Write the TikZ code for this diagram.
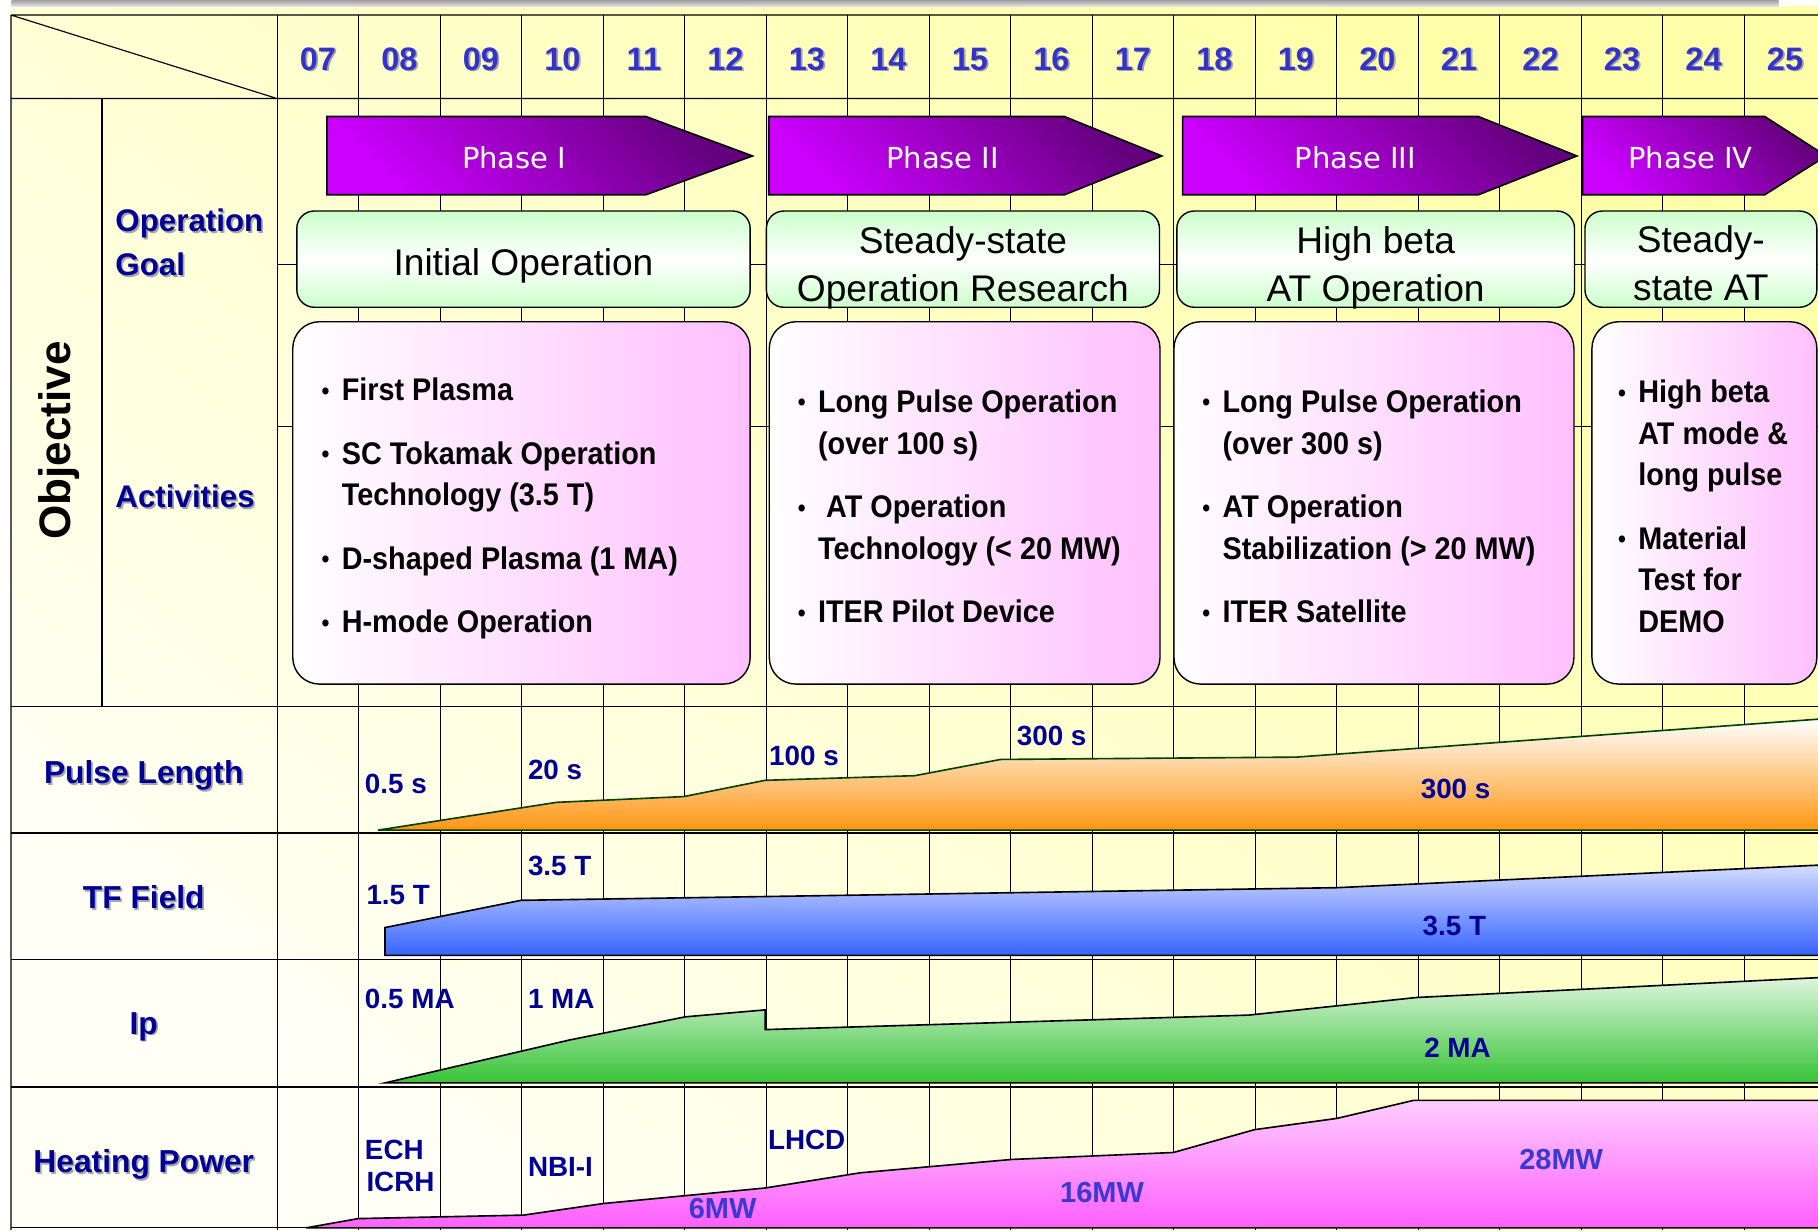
\documentclass[tikz,border=0pt]{standalone}
\usepackage{fontspec}
\setmainfont{Liberation Sans}
\newfontfamily\actfont[FakeStretch=0.92]{Liberation Sans}
\newfontfamily\phasefont{DejaVu Sans}
\usetikzlibrary{calc}
\definecolor{navy}{RGB}{0,0,150}
\definecolor{yearblue}{RGB}{51,51,204}
\definecolor{mwblue}{RGB}{58,58,210}
\definecolor{phdark}{RGB}{100,0,125}
\definecolor{phlight}{RGB}{204,0,255}
\definecolor{pulseor}{RGB}{255,150,20}
\definecolor{tflight}{RGB}{212,220,255}
\definecolor{tfblue}{RGB}{55,100,255}
\definecolor{iplight}{RGB}{222,245,222}
\definecolor{ipgreen}{RGB}{55,195,55}
\definecolor{heatlight}{RGB}{255,205,255}
\definecolor{heatpink}{RGB}{255,95,255}
\definecolor{bgur}{RGB}{255,255,170}
\definecolor{bgll}{RGB}{255,255,246}
\newcommand\bul{\makebox[8.7pt][l]{\raisebox{0.6pt}{\fontsize{10.5}{10.5}\selectfont\textbullet}}}
\newcommand\ind{\hspace*{8.7pt}}
% label with a grey drop shadow: name, style, position, text
\newcommand\shadowlbl[4]{%
  \node[#2,text=black!35] at ($(#3)+(1.5,1.5)$) {#4};
  \node[#2] (#1) at (#3) {#4};}

\begin{document}
\begin{tikzpicture}[x=0.5pt,y=-0.5pt,
  gridline/.style={line width=0.5pt},
  yearlbl/.style={anchor=base,text=yearblue,font=\bfseries\fontsize{14}{16}\selectfont},
  rowlbl/.style={anchor=base,text=navy,font=\bfseries\fontsize{13.7}{16}\selectfont},
  sublbl/.style={anchor=base west,inner sep=0pt,text=navy,font=\bfseries\fontsize{13.5}{16}\selectfont},
  datalbl/.style={anchor=base west,inner sep=0pt,text=navy,font=\bfseries\fontsize{12}{14}\selectfont},
  mwlbl/.style={datalbl,text=mwblue,font=\bfseries\fontsize{12.5}{14}\selectfont},
  phasearrow/.style={draw=black,line width=0.7pt,top color=phdark,bottom color=phlight,shading angle=-45},
  phasetext/.style={anchor=base,text=white,font=\phasefont\fontsize{12.5}{15}\selectfont},
  goalbox/.style={draw=black,line width=0.6pt,rounded corners=7.5pt,top color=green!20,bottom color=green!20,middle color=white},
  goaltext/.style={align=center,inner sep=0pt,font=\fontsize{16}{21}\selectfont},
  actbox/.style={draw=black,line width=0.6pt,rounded corners=11.5pt,left color=white,right color=magenta!25},
  acttext/.style={anchor=north west,align=left,inner sep=0pt,font=\actfont\bfseries\fontsize{13.5}{18}\selectfont},
  datashape/.style={draw=black,line width=0.7pt}]
\useasboundingbox (0,0) rectangle (1568,1061);
\clip (0,0) rectangle (1568,1061);
\fill[white] (0,0) rectangle (1568,1061);
\shade[top color=bgur,bottom color=bgll,shading angle=-40] (9.5,5.5) rectangle (1568,1061);
\shade[top color=gray!75,bottom color=gray!20] (10,0) rectangle (1534,5.5);

% table grid
\draw[gridline] (9.5,13) -- (1568,13) (9.5,85) -- (1568,85) (9.5,13) -- (9.5,1061) (9.5,13) -- (239,85);
\draw[gridline] (88,85) -- (88,609);
\foreach \k in {0,...,18} \draw[gridline] ({239+70.3*\k},13) -- ({239+70.3*\k},1061);
\foreach \y in {228,368} \draw[gridline] (239,\y) -- (1568,\y);
\foreach \y in {609,718.5,827.5,937.5,1059} \draw[gridline] (9.5,\y) -- (1568,\y);

% years
\foreach \yr [count=\k from 0] in {07,08,09,10,11,12,13,14,15,16,17,18,19,20,21,22,23,24,25}{
  \pgfmathsetmacro\xc{239+70.3*(\k+0.5)}
  \shadowlbl{yr\yr}{yearlbl}{\xc,60.4}{\yr}}

% row labels
\node[anchor=base,rotate=90,font=\bfseries\fontsize{19}{22}\selectfont] (objective) at (61,380) {Objective};
\shadowlbl{opgoal}{sublbl}{99.2,199.8}{Operation}
\shadowlbl{goal}{sublbl}{99.2,237.9}{Goal}
\shadowlbl{activ}{sublbl}{99.2,437.5}{Activities}
\shadowlbl{pulse}{rowlbl}{124,675.7}{Pulse Length}
\shadowlbl{tffield}{rowlbl}{124,783.8}{TF Field}
\shadowlbl{ip}{rowlbl}{124,891.8}{Ip}
\shadowlbl{heating}{rowlbl}{124,1011.5}{Heating Power}

% phases
\foreach \a/\b/\c/\tx/\ptxt/\n in {282/557/649/443.5/Phase I/1,663/918/1002/813/Phase II/2,
    1020/1275/1360/1169/Phase III/3,1365/1522/1575/1458/Phase IV/4}{
  \draw[phasearrow] (\a,100.5) -- (\b,100.5) -- (\c,134.5) -- (\b,168) -- (\a,168) -- cycle;
  \node[phasetext] (phase\n) at (\tx,145.2) {\ptxt};}

% operation goals
\foreach \a/\b in {256/647,661/1000,1015/1358,1367/1567} \draw[goalbox] (\a,182) rectangle (\b,265);
\node[goaltext] (goal1) at (451.5,229) {Initial Operation};
\node[goaltext] (goal2) at (830.5,231) {Steady-state\\Operation Research};
\node[goaltext] (goal3) at (1186.5,231) {High beta\\AT Operation};
\node[goaltext] (goal4) at (1467,227) {Steady-\\state AT};

% activities
\foreach \a/\b in {252.5/647,663.5/1000.5,1012.5/1357.5,1373/1567} \draw[actbox] (\a,277.5) rectangle (\b,590);
\node[acttext] (act1) at (277,325.7) {\bul First Plasma\\[9.3pt]%
\bul SC Tokamak Operation\\\ind Technology (3.5 T)\\[9.3pt]%
\bul D-shaped Plasma (1 MA)\\[9.3pt]%
\bul H-mode Operation};
\node[acttext] (act2) at (687.8,335.7) {\bul Long Pulse Operation\\\ind(over 100 s)\\[9.3pt]%
\bul\ AT Operation\\\ind Technology (< 20 MW)\\[9.3pt]%
\bul ITER Pilot Device};
\node[acttext] (act3) at (1036.7,335.7) {\bul Long Pulse Operation\\\ind(over 300 s)\\[9.3pt]%
\bul AT Operation\\\ind Stabilization (> 20 MW)\\[9.3pt]%
\bul ITER Satellite};
\node[acttext] (act4) at (1395.2,327.1) {\bul High beta\\\ind AT mode \&\\\ind long pulse\\[9.3pt]%
\bul Material\\\ind Test for\\\ind DEMO};

% parameter ramps
\draw[datashape,draw=green!25!black,top color=white,bottom color=pulseor] (326,716) -- (480,692) -- (590,687) -- (660,673)
  -- (789,669) -- (863,655) -- (1118,653) -- (1572,620) -- (1572,716) -- cycle;
\draw[datashape,top color=tflight,bottom color=tfblue] (332,824) -- (332,800) -- (449.5,776.5) -- (1153,765.6)
  -- (1572,746) -- (1572,824) -- cycle;
\draw[datashape,top color=iplight,bottom color=ipgreen] (332,934) -- (491,897) -- (591,877) -- (660,871) -- (660,888)
  -- (1077,875.5) -- (1222,860.3) -- (1572,843) -- (1572,934) -- cycle;
\draw[datashape,top color=heatlight,bottom color=heatpink] (264,1059) -- (309,1051) -- (451.5,1048) -- (520.5,1038)
  -- (660,1024.6) -- (742,1011.5) -- (872.5,1000) -- (1012,994) -- (1082,974.3) -- (1153,964.6) -- (1219.4,949)
  -- (1572,949) -- (1572,1059) -- cycle;

% values
\node[datalbl] (pl1) at (314.4,684) {0.5 s};
\node[datalbl] (pl2) at (455,672) {20 s};
\node[datalbl] (pl3) at (663,660) {100 s};
\node[datalbl] (pl4) at (876.6,643) {300 s};
\node[datalbl] (pl5) at (1225,689) {300 s};
\node[datalbl] (tf1) at (315.7,780) {1.5 T};
\node[datalbl] (tf2) at (455,755) {3.5 T};
\node[datalbl] (tf3) at (1226.6,807) {3.5 T};
\node[datalbl] (ip1) at (314.4,870) {0.5 MA};
\node[datalbl] (ip2) at (455,870) {1 MA};
\node[datalbl] (ip3) at (1228,912) {2 MA};
\node[datalbl] (hp1) at (314.4,1000) {ECH};
\node[datalbl] (hp2) at (315.7,1028) {ICRH};
\node[datalbl] (hp3) at (455,1015) {NBI-I};
\node[datalbl] (hp4) at (662,991) {LHCD};
\node[mwlbl] (mw1) at (593.7,1051) {6MW};
\node[mwlbl] (mw2) at (914,1037) {16MW};
\node[mwlbl] (mw3) at (1310,1009) {28MW};
\end{tikzpicture}
\end{document}
